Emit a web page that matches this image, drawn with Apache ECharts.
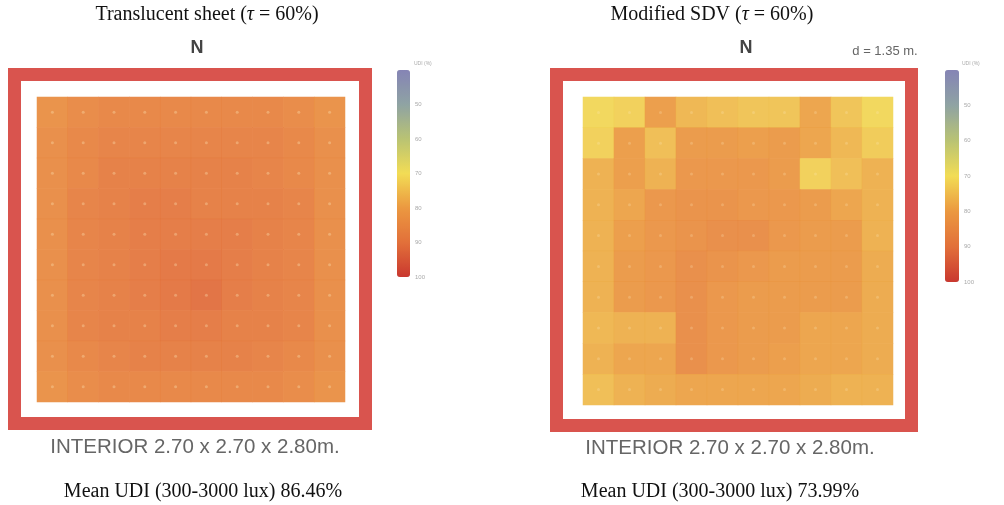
<!DOCTYPE html>
<html>
<head>
<meta charset="utf-8">
<script src="https://cdn.jsdelivr.net/npm/echarts@6/dist/echarts.min.js"></script>
<style>html,body{margin:0;padding:0;background:#fff}#c{width:1004px;height:505px}</style>
</head>
<body>
<div id="c"></div>
<script>
// Grid categories (10 x 10 sensor grid, row 0 = north)
const cols = ['1','2','3','4','5','6','7','8','9','10'];
const rows = ['1','2','3','4','5','6','7','8','9','10'];
// Colour-scale ticks (UDI %)
const scaleMin = 40, scaleMax = 100, scaleStep = 10;

// Translucent sheet (tau = 60%) UDI values
const leftGrid = [
  [83,85,86,86,86,86,86,86,85,83],
  [84,86,87,87,87,87,87,87,86,84],
  [84,86,88,88,88,88,88,87,86,84],
  [84,87,88,89,89,88,88,88,87,84],
  [84,87,88,89,89,89,89,88,87,84],
  [84,87,88,89,90,90,89,88,87,84],
  [84,87,88,89,90,91,89,88,87,84],
  [84,87,88,88,89,89,88,88,87,84],
  [84,86,87,88,88,88,88,87,86,84],
  [83,85,86,86,86,86,86,86,85,83]
];
// Modified SDV (tau = 60%) UDI values
const rightGrid = [
  [71,72,80,76,75,74,74,79,74,71],
  [72,80,75,81,81,80,81,79,76,73],
  [77,80,77,82,82,82,81,72,75,77],
  [77,79,82,83,83,82,82,81,79,77],
  [77,80,82,83,84,84,82,81,81,77],
  [77,81,82,84,83,82,81,81,81,78],
  [77,81,82,84,82,81,81,81,81,78],
  [76,77,77,84,82,81,81,79,79,78],
  [77,79,79,84,82,81,80,79,79,78],
  [75,77,78,79,79,79,79,78,77,77]
];

const palette = ['#8584b5','#8fa3a3','#b9c373','#f2dc55','#eb9840','#e2703a','#c9382f'];

function toCells(g){
  const out=[];
  g.forEach((r,ri)=>r.forEach((v,ci)=>out.push([ci,ri,v])));
  return out;
}
function toDots(){
  const out=[];
  rows.forEach((r,ri)=>cols.forEach((c,ci)=>out.push([ci,ri])));
  return out;
}

const chart = echarts.init(document.getElementById('c'), null, {renderer:'canvas'});
const serif = 'Liberation Serif';
const sans = 'Liberation Sans';

function catX(gi){return {type:'category',data:cols,gridIndex:gi,show:false,boundaryGap:true};}
function catY(gi){return {type:'category',data:rows,gridIndex:gi,show:false,inverse:true,boundaryGap:true};}
function barAxis(gi){
  return {type:'value',gridIndex:gi,min:scaleMin,max:scaleMax,interval:scaleStep,inverse:true,position:'right',
    axisLine:{show:false},axisTick:{show:false},splitLine:{show:false},
    axisLabel:{fontSize:6,color:'#aaa',margin:5,fontFamily:sans,formatter:v=>v===scaleMin?'':String(v)}};
}
function titleText(x,label){
  return {type:'text',x:x,y:15,style:{text:'{n|'+label+' (}{i|τ}{n| = 60%)}',align:'center',verticalAlign:'middle',
    rich:{n:{fontFamily:serif,fontSize:20,fill:'#111'},i:{fontFamily:serif,fontSize:20,fontStyle:'italic',fill:'#111'}}}};
}

chart.setOption({
  backgroundColor:'#fff',
  animation:false,
  grid:[
    {left:37,top:97,width:308,height:305},
    {left:583,top:97,width:310,height:308},
    {left:397,top:70,width:13,height:207},
    {left:945,top:70,width:14,height:212}
  ],
  xAxis:[catX(0),catX(1),{type:'value',gridIndex:2,show:false},{type:'value',gridIndex:3,show:false}],
  yAxis:[catY(0),catY(1),barAxis(2),barAxis(3)],
  visualMap:[
    {type:'continuous',seriesIndex:0,min:scaleMin,max:scaleMax,inverse:true,calculable:false,hoverLink:false,
      left:397,top:70,itemWidth:13,itemHeight:207,padding:0,text:null,showLabel:false,inRange:{color:palette}},
    {type:'continuous',seriesIndex:1,min:scaleMin,max:scaleMax,inverse:true,calculable:false,hoverLink:false,
      left:945,top:70,itemWidth:14,itemHeight:212,padding:0,text:null,showLabel:false,inRange:{color:palette}}
  ],
  series:[
    {type:'heatmap',xAxisIndex:0,yAxisIndex:0,data:toCells(leftGrid),itemStyle:{opacity:0.93},emphasis:{disabled:true}},
    {type:'heatmap',xAxisIndex:1,yAxisIndex:1,data:toCells(rightGrid),itemStyle:{opacity:0.93},emphasis:{disabled:true}},
    {type:'scatter',xAxisIndex:0,yAxisIndex:0,data:toDots(),symbolSize:3,itemStyle:{color:'rgba(255,235,190,0.4)'},silent:true},
    {type:'scatter',xAxisIndex:1,yAxisIndex:1,data:toDots(),symbolSize:3,itemStyle:{color:'rgba(255,235,190,0.3)'},silent:true}
  ],
  graphic:[
    {type:'rect',shape:{x:14.5,y:74.5,width:351,height:349},style:{fill:null,stroke:'#d9544e',lineWidth:13},silent:true},
    {type:'rect',shape:{x:556.5,y:74.5,width:355,height:351},style:{fill:null,stroke:'#d9544e',lineWidth:13},silent:true},
    titleText(207,'Translucent sheet'),
    titleText(712,'Modified SDV'),
    {type:'text',x:197,y:48,style:{text:'N',align:'center',verticalAlign:'middle',fontFamily:sans,fontWeight:'bold',fontSize:18,fill:'#444'}},
    {type:'text',x:746,y:48,style:{text:'N',align:'center',verticalAlign:'middle',fontFamily:sans,fontWeight:'bold',fontSize:18,fill:'#444'}},
    {type:'text',x:885,y:51,style:{text:'d = 1.35 m.',align:'center',verticalAlign:'middle',fontFamily:sans,fontSize:13,fill:'#666'}},
    {type:'text',x:195,y:447,style:{text:'INTERIOR 2.70 x 2.70 x 2.80m.',align:'center',verticalAlign:'middle',fontFamily:sans,fontSize:20.5,fill:'#666'}},
    {type:'text',x:730,y:448,style:{text:'INTERIOR 2.70 x 2.70 x 2.80m.',align:'center',verticalAlign:'middle',fontFamily:sans,fontSize:20.5,fill:'#666'}},
    {type:'text',x:203,y:492,style:{text:'Mean UDI (300-3000 lux) 86.46%',align:'center',verticalAlign:'middle',fontFamily:serif,fontSize:20,fill:'#111'}},
    {type:'text',x:720,y:492,style:{text:'Mean UDI (300-3000 lux) 73.99%',align:'center',verticalAlign:'middle',fontFamily:serif,fontSize:20,fill:'#111'}},
    {type:'text',x:414,y:64,style:{text:'UDI (%)',align:'left',verticalAlign:'middle',fontFamily:sans,fontSize:5,fill:'#aaa'}},
    {type:'text',x:962,y:64,style:{text:'UDI (%)',align:'left',verticalAlign:'middle',fontFamily:sans,fontSize:5,fill:'#aaa'}}
  ]
});
</script>
</body>
</html>
